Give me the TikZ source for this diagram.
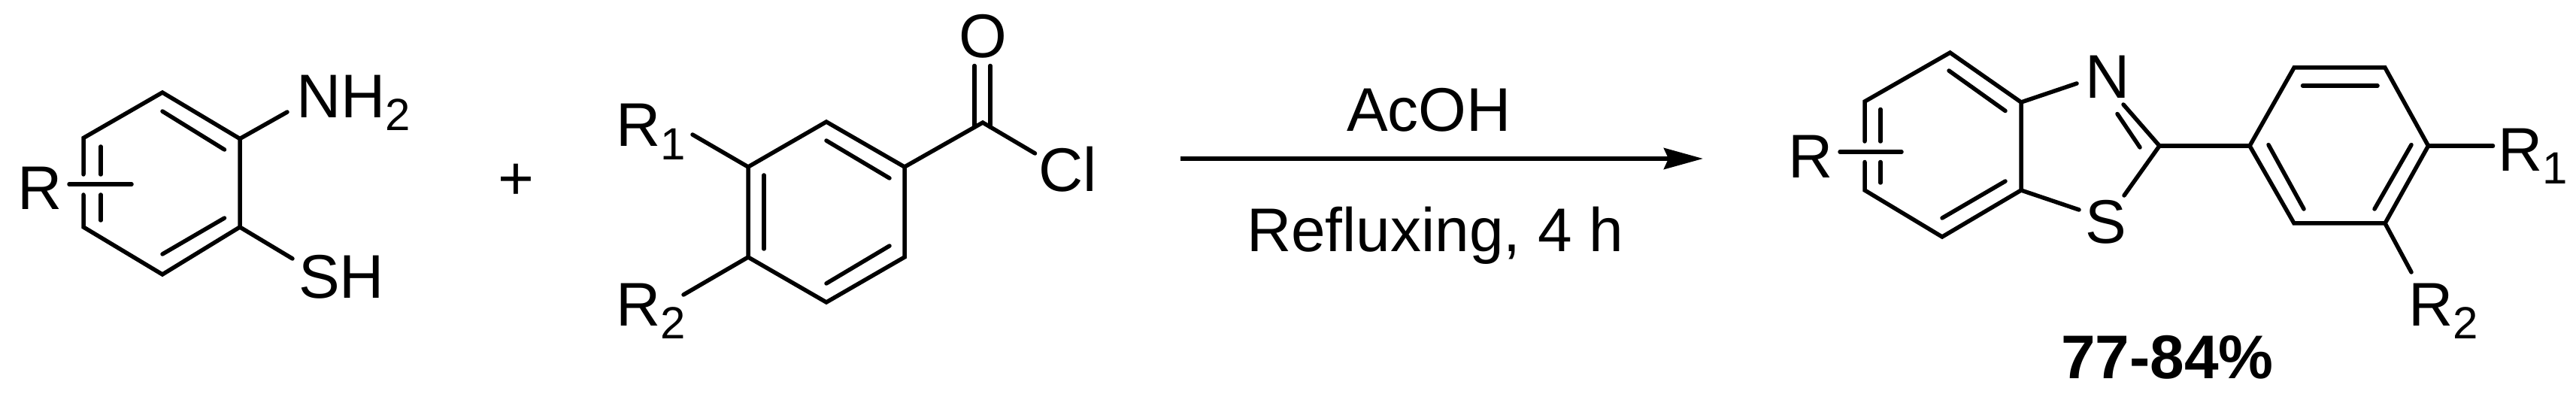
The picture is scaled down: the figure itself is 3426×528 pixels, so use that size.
\documentclass[tikz,border=0pt]{standalone}
\usepackage{fontspec}
\setmainfont[Kerning=Off]{Liberation Sans}
\usetikzlibrary{arrows.meta}
\newcommand{\subdrop}[2]{\raisebox{-#1pt}{\fontsize{30}{30}\selectfont #2}}
\tikzset{
  bond/.style={line width=2.75pt,line cap=round,line join=miter,black},
  lbl/.style={inner sep=0pt,outer sep=0pt,anchor=base west,font=\fontsize{41}{41}\selectfont,text=black},
  yieldlbl/.style={inner sep=0pt,outer sep=0pt,anchor=base west,font=\fontsize{41}{41}\selectfont\bfseries,text=black},
  rxnarrow/.style={line width=3pt,black,-{Stealth[length=26pt,width=14pt,inset=3pt]}}
}
\begin{document}
\begin{tikzpicture}[x=0.5pt,y=-0.5pt]
\useasboundingbox (0,0) rectangle (3426,528);
% ---------- aminothiophenol
\coordinate (a1) at (216,123);
\coordinate (a2) at (319,184.5);
\coordinate (a3) at (319,302);
\coordinate (a4) at (216,365);
\coordinate (a5) at (111,302);
\coordinate (a6) at (111,183.5);
\coordinate (a5g) at (111,259);
\coordinate (a6g) at (111,232);
\coordinate (ai1) at (216,148);
\coordinate (ai2) at (298.5,199);
\coordinate (ai3) at (298.5,290);
\coordinate (ai4) at (216,338);
\coordinate (ai5) at (134,195);
\coordinate (ai6) at (134,232);
\coordinate (ai7) at (134,259);
\coordinate (ai8) at (134,293);
\coordinate (arl) at (92,245);
\coordinate (arr) at (175,245);
\coordinate (anh) at (382,149);
\coordinate (ash) at (389,344);
\draw[bond] (a6g) -- (a6) -- (a1) -- (a2) -- (a3) -- (a4) -- (a5) -- (a5g);
\draw[bond] (ai1) -- (ai2);
\draw[bond] (ai3) -- (ai4);
\draw[bond] (ai5) -- (ai6);
\draw[bond] (ai7) -- (ai8);
\draw[bond] (arl) -- (arr);
\draw[bond] (a2) -- (anh);
\draw[bond] (a3) -- (ash);
\node[lbl] (aR) at (24,279) {R};
\node[lbl] (aNH) at (394,157) {NH\subdrop{8.5}{2}};
\node[lbl] (aSH) at (397,397) {SH};
\node[lbl] (plus) at (662,266) {+};
% ---------- acid chloride
\coordinate (b1) at (1099,162);
\coordinate (b2) at (1203,222);
\coordinate (b3) at (1203,342);
\coordinate (b4) at (1099,402);
\coordinate (b5) at (995,342);
\coordinate (b6) at (995,222);
\coordinate (bi1) at (1099,187);
\coordinate (bi2) at (1183,237);
\coordinate (bi3) at (1183,327);
\coordinate (bi4) at (1099,377);
\coordinate (bi5) at (1016,233);
\coordinate (bi6) at (1016,331);
\coordinate (bc) at (1307,163);
\coordinate (bcl) at (1376.5,204);
\coordinate (bo1a) at (1296,87.5);
\coordinate (bo1b) at (1296,169);
\coordinate (bo2a) at (1317,87.5);
\coordinate (bo2b) at (1317,169);
\coordinate (br1) at (921,179);
\coordinate (br2) at (909,392);
\draw[bond] (b1) -- (b2) -- (b3) -- (b4) -- (b5) -- (b6) -- cycle;
\draw[bond] (bi1) -- (bi2);
\draw[bond] (bi3) -- (bi4);
\draw[bond] (bi5) -- (bi6);
\draw[bond] (b2) -- (bc) -- (bcl);
\draw[bond] (bo1a) -- (bo1b);
\draw[bond] (bo2a) -- (bo2b);
\draw[bond] (b6) -- (br1);
\draw[bond] (b5) -- (br2);
\node[lbl] (bO) at (1275,77) {O};
\node[lbl] (bCl) at (1381,255) {Cl};
\node[lbl] (bR1) at (819.5,195) {R\subdrop{9}{1}};
\node[lbl] (bR2) at (819.5,434) {R\subdrop{8.5}{2}};
% ---------- reaction arrow
\coordinate (arrS) at (1570,211);
\coordinate (arrE) at (2265,211);
\draw[rxnarrow] (arrS) -- (arrE);
\node[lbl] (acoh) at (1791,175) {AcOH};
\node[lbl] (reflux) at (1658,335) {Refluxing, 4 h};
% ---------- benzothiazole
\coordinate (c1) at (2593.5,70);
\coordinate (c2) at (2688,136);
\coordinate (c3) at (2688,253);
\coordinate (c4) at (2583,315);
\coordinate (c5) at (2480,253);
\coordinate (c6) at (2480,135);
\coordinate (c5g) at (2480,215.5);
\coordinate (c6g) at (2480,188);
\coordinate (ci1) at (2592,94);
\coordinate (ci2) at (2667,147.5);
\coordinate (ci3) at (2667,241);
\coordinate (ci4) at (2583,290);
\coordinate (ci5) at (2501,145.5);
\coordinate (ci6) at (2501,188);
\coordinate (ci7) at (2501,215.5);
\coordinate (ci8) at (2501,243);
\coordinate (crl) at (2447,202);
\coordinate (crr) at (2529,202);
\coordinate (cnb) at (2762,111);
\coordinate (cn1) at (2824,139);
\coordinate (cc) at (2872,194);
\coordinate (cn2) at (2816,151.5);
\coordinate (cn3) at (2846,196);
\coordinate (csb) at (2825,260);
\coordinate (csa) at (2765,279);
\draw[bond] (c6g) -- (c6) -- (c1) -- (c2) -- (c3) -- (c4) -- (c5) -- (c5g);
\draw[bond] (ci1) -- (ci2);
\draw[bond] (ci3) -- (ci4);
\draw[bond] (ci5) -- (ci6);
\draw[bond] (ci7) -- (ci8);
\draw[bond] (crl) -- (crr);
\draw[bond] (c2) -- (cnb);
\draw[bond] (cn1) -- (cc) -- (csb);
\draw[bond] (cn2) -- (cn3);
\draw[bond] (c3) -- (csa);
\node[lbl] (cR) at (2378.5,237) {R};
\node[lbl] (cN) at (2773,131) {N};
\node[lbl] (cS) at (2773,324) {S};
% ---------- aryl
\coordinate (d1) at (2992,194);
\coordinate (d2) at (3051,90);
\coordinate (d3) at (3172,90);
\coordinate (d4) at (3229.5,194);
\coordinate (d5) at (3172,297);
\coordinate (d6) at (3051,297);
\coordinate (di1) at (3062.5,114);
\coordinate (di2) at (3162,114);
\coordinate (di3) at (3017,192.6);
\coordinate (di4) at (3064,278);
\coordinate (di5) at (3207,192.6);
\coordinate (di6) at (3158,278);
\coordinate (dr1) at (3315.5,194);
\coordinate (dr2) at (3207,362);
\draw[bond] (d1) -- (d2) -- (d3) -- (d4) -- (d5) -- (d6) -- cycle;
\draw[bond] (di1) -- (di2);
\draw[bond] (di3) -- (di4);
\draw[bond] (di5) -- (di6);
\draw[bond] (cc) -- (d1);
\draw[bond] (d4) -- (dr1);
\draw[bond] (d5) -- (dr2);
\node[lbl] (dR1) at (3322,228) {R\subdrop{8.5}{1}};
\node[lbl] (dR2) at (3203,434) {R\subdrop{8.5}{2}};
\node[yieldlbl] (yield) at (2741,504) {77-84\%};
\end{tikzpicture}
\end{document}
